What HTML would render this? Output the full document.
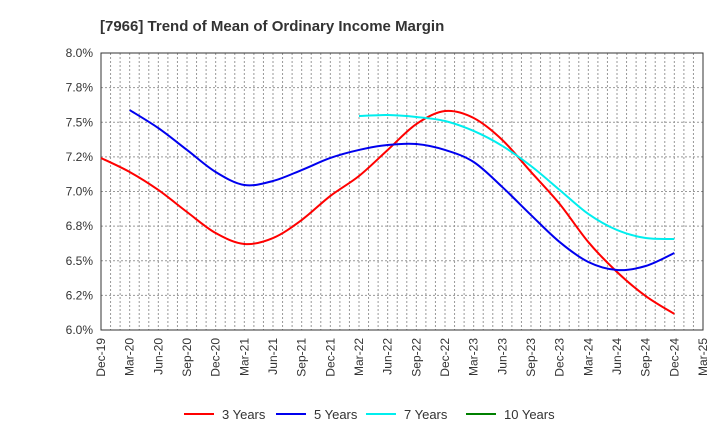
<!DOCTYPE html>
<html><head><meta charset="utf-8"><style>
body{margin:0;background:#fff;font-family:"Liberation Sans",sans-serif}
</style></head><body>
<svg width="720" height="440" id="svg" xmlns="http://www.w3.org/2000/svg">
<text x="100" y="31" font-size="15" font-weight="bold" fill="#333">[7966]  Trend of Mean of Ordinary Income Margin</text>
<g id="grid"></g><g id="axes"></g><g id="series"></g><g id="legend"></g>
</svg>
<script>
const xLabels=["Dec-19","Mar-20","Jun-20","Sep-20","Dec-20","Mar-21","Jun-21","Sep-21","Dec-21","Mar-22","Jun-22","Sep-22","Dec-22","Mar-23","Jun-23","Sep-23","Dec-23","Mar-24","Jun-24","Sep-24","Dec-24","Mar-25"];
const yTicks=[6.0,6.25,6.5,6.75,7.0,7.25,7.5,7.75,8.0];
const yTickLabels=["6.0%","6.2%","6.5%","6.8%","7.0%","7.2%","7.5%","7.8%","8.0%"];
const red3=[7.242,7.141,7.011,6.852,6.700,6.621,6.664,6.794,6.968,7.112,7.300,7.487,7.581,7.531,7.372,7.141,6.910,6.635,6.419,6.245,6.116];
const red3Start=0;
const blue5=[7.588,7.458,7.300,7.141,7.047,7.076,7.155,7.242,7.300,7.336,7.343,7.300,7.213,7.032,6.830,6.635,6.491,6.433,6.462,6.556];
const blue5Start=1;
const cyan7=[7.545,7.552,7.538,7.509,7.437,7.329,7.184,7.011,6.838,6.722,6.664,6.657];
const cyan7Start=9;
const ten=[];
const L=101,R=703,T=53,B=330;
const X=q=>L+q*3*(R-L)/63;
const Y=v=>B-(v-6)/2*(B-T);
const NS="http://www.w3.org/2000/svg";
function mk(tag,attrs,parent){const e=document.createElementNS(NS,tag);for(const k in attrs)e.setAttribute(k,attrs[k]);parent.appendChild(e);return e;}
const grid=document.getElementById('grid'),axes=document.getElementById('axes'),ser=document.getElementById('series'),leg=document.getElementById('legend');
for(let m=1;m<63;m++){const x=L+m*(R-L)/63;const g=mk('line',{x1:x,x2:x,y1:T,y2:B,stroke:'#999','stroke-dasharray':'2,2','stroke-width':1},grid);

}
yTicks.forEach((v,i)=>{const y=Y(v);
if(i>0&&i<yTicks.length-1){const g=mk('line',{x1:L,x2:R,y1:y,y2:y,stroke:'#999','stroke-dasharray':'2,2'},grid);

}
const t=mk('text',{x:L-8,y:y+4,'text-anchor':'end','font-size':12,fill:'#333'},axes);t.textContent=yTickLabels[i];

});
const fr=mk('rect',{x:L,y:T,width:R-L,height:B-T,fill:'none',stroke:'#333','stroke-width':1},axes);


xLabels.forEach((s,i)=>{const x=X(i);const t=mk('text',{transform:`translate(${x+4},${B+8}) rotate(-90)`,'text-anchor':'end','font-size':12,fill:'#333'},axes);t.textContent=s;

});
function path(vals,start){const p=vals.map((v,i)=>[X(start+i),Y(v)]);if(p.length<2)return '';let d=`M${p[0][0]},${p[0][1]}`;
for(let i=0;i<p.length-1;i++){const p0=p[i-1]||p[i],p1=p[i],p2=p[i+1],p3=p[i+2]||p2;
d+=` C${p1[0]+(p2[0]-p0[0])/6},${p1[1]+(p2[1]-p0[1])/6} ${p2[0]-(p3[0]-p1[0])/6},${p2[1]-(p3[1]-p1[1])/6} ${p2[0]},${p2[1]}`;}return d;}
const S=[[red3,red3Start,'#ff0000','3 Years','line-3-years'],[blue5,blue5Start,'#0000ee','5 Years','line-5-years'],[cyan7,cyan7Start,'#00eeee','7 Years','line-7-years'],[ten,0,'#008000','10 Years','line-10-years']];
const lx=[184,276,366,466];
S.forEach((s,k)=>{if(s[0].length>1){const p=mk('path',{d:path(s[0],s[1]),fill:'none',stroke:s[2],'stroke-width':2},ser);

}
const g=mk('g',{},leg);


mk('line',{x1:lx[k],x2:lx[k]+30,y1:414,y2:414,stroke:s[2],'stroke-width':2},g);
const t=mk('text',{x:lx[k]+38,y:419,'font-size':13,fill:'#333'},g);t.textContent=s[3];});
</script>
</body></html>
